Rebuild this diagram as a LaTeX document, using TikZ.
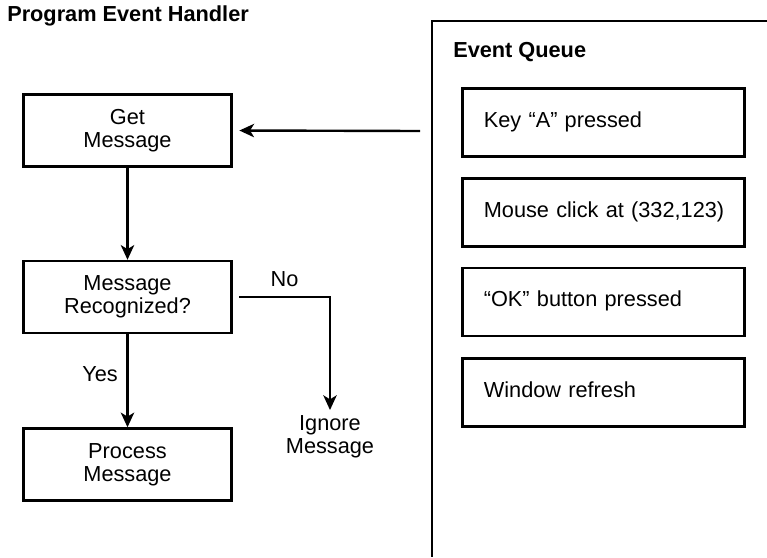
\documentclass[tikz,border=0pt]{standalone}
\usepackage{fontspec}
\setmainfont{Liberation Sans}
\usetikzlibrary{arrows.meta}
\begin{document}
\begin{tikzpicture}[x=0.75pt,y=-0.75pt,
  every node/.style={font=\fontsize{16.3pt}{17.5pt}\selectfont, inner sep=0pt},
  flowbox/.style={draw, line width=1.8pt, minimum width=156pt, minimum height=54pt, align=center},
  queuebox/.style={draw, line width=1.8pt, minimum width=211.5pt, minimum height=51pt,
    inner xsep=16pt, text width=179.5pt, align=left, text height=0.72em, text depth=0pt},
  flow/.style={line width=1.8pt, -{Stealth[length=11pt,width=10pt,inset=3pt]}},
  heading/.style={font=\bfseries\fontsize{16.3pt}{17.5pt}\selectfont, anchor=base west}]
\useasboundingbox (0,0) rectangle (767,557);

% headings
\node[heading] (title) at (7,21.7) {Program Event Handler};

% event queue panel (runs off the right and bottom edges)
\draw[line width=1.8pt] (767,21) -- (432,21) -- (432,557);
\node[heading] (qtitle) at (453,57.5) {Event Queue};

\node[queuebox] (q1) at (603.5,122.5) {\mbox{Key “A” pressed}};
\node[queuebox] (q2) at (603.5,212.5) {\mbox{Mouse click at (332,123)}};
\node[queuebox] (q3) at (603.5,302) {\mbox{“OK” button pressed}};
\node[queuebox] (q4) at (603.5,392.5) {\mbox{Window refresh}};

% handler flow
\node[flowbox] (get) at (127.5,130.5) {Get\\Message};
\node[flowbox] (rec) at (127.5,297) {Message\\Recognized?};
\node[flowbox] (proc) at (127.5,464.5) {Process\\Message};
\node[align=center] (ign) at (330,437) {Ignore\\Message};

\coordinate (qout) at (420,131);
\draw[flow, shorten >=5pt] (qout) -- (get.east);
\draw[flow] (get.south) -- (rec.north);
\draw[flow] (rec.south) -- (proc.north);
\draw[flow, shorten <=5pt, shorten >=4pt] (rec.east) -| (ign.north);

\node[anchor=base] (no) at (284.5,286.7) {No};
\node[anchor=base east] (yes) at (118,381.7) {Yes};
\end{tikzpicture}
\end{document}
